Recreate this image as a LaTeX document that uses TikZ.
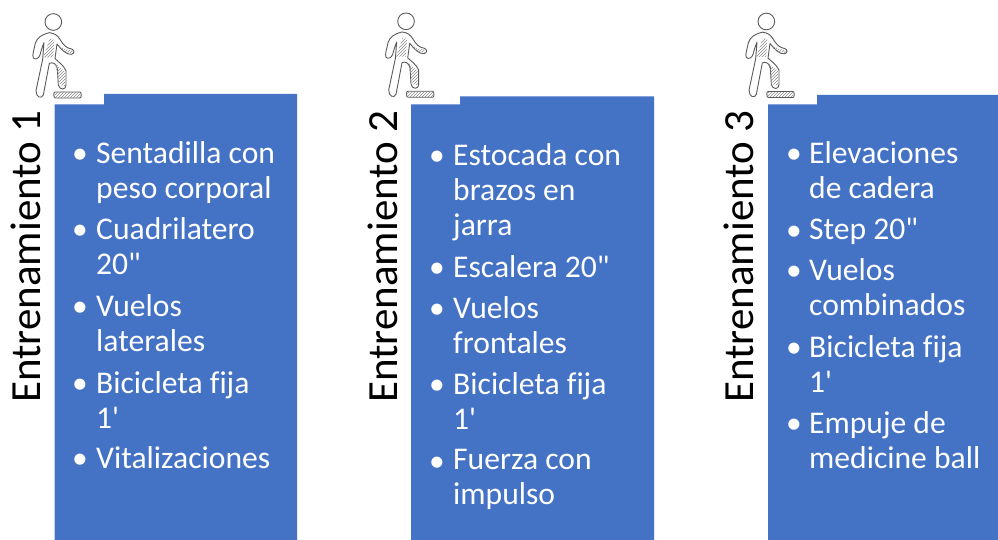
\documentclass[tikz,border=0pt]{standalone}
\usepackage{fontspec}
\usetikzlibrary{patterns}
\newfontfamily\bodyfont[Ligatures=NoCommon]{Carlito}
\definecolor{bluebox}{HTML}{4472C4}
\definecolor{inkgray}{HTML}{5A5A5A}
\definecolor{hatch}{HTML}{8C8C8C}
\tikzset{
  x=1pt,y=-1pt,
  panel/.style={fill=bluebox,draw=none},
  itemtext/.style={text=white,anchor=north west,inner sep=0pt,align=left,font=\bodyfont\fontsize{31.6}{35}\selectfont},
  bulletmark/.style={text=white,anchor=north west,inner sep=0pt,font=\bodyfont\fontsize{31.5}{35}\selectfont},
  sidetitle/.style={text=black,rotate=90,anchor=base,inner sep=0pt,font=\bodyfont\fontsize{43}{45}\selectfont},
  figline/.style={draw=inkgray,line width=0.9pt,fill=white,line join=round,line cap=round},
  figshade/.style={draw=none,pattern=north east lines,pattern color=hatch}
}
% person drawn in 3x zoom coordinates
\newcommand{\climber}[2]{%
\begin{scope}[shift={(#1,#2)},x=0.3333pt,y=-0.3333pt]
  \draw[figline] (160,66) circle (25);
  \draw[figline] (148,98) .. controls (125,104) and (112,112) .. (106,130)
    .. controls (102,150) and (96,165) .. (100,174) .. controls (106,180) and (116,176) .. (120,165)
    .. controls (124,150) and (127,140) .. (132,128) -- (128,178) -- (108,272)
    .. controls (108,292) and (124,298) .. (130,285) -- (148,190)
    .. controls (158,186) and (168,190) .. (172,205) -- (175,255)
    .. controls (178,270) and (198,272) .. (198,255) -- (198,212)
    .. controls (190,195) and (175,185) .. (165,176) -- (171,132)
    .. controls (185,150) and (200,165) .. (215,163) .. controls (224,160) and (224,150) .. (215,147)
    .. controls (200,145) and (190,135) .. (180,118) .. controls (172,106) and (165,100) .. (148,98) -- cycle;
  \fill[figshade] (150,115) -- (130,172) -- (160,172) -- (163,120) -- cycle;
  \fill[figshade] (175,135) -- (190,155) -- (215,160) -- (220,152) -- (195,148) -- cycle;
  \fill[figshade] (165,190) -- (180,255) -- (195,258) -- (195,215) -- cycle;
  \draw[figline] (165,276) -- (240,276) .. controls (245,276) and (245,294) .. (240,294) -- (166,294) .. controls (160,294) and (160,276) .. (165,276) -- cycle;
  \fill[figshade] (165,278) rectangle (241,292);
\end{scope}}
% bullet + text entry
\newcommand{\entry}[5]{%
  \node[bulletmark] (#1b) at (#2-3,#3+13) {•};
  \node[itemtext] (#1) at (#4,#3+5) {#5};}
\begin{document}
\begin{tikzpicture}
\useasboundingbox (0,0) rectangle (998,540);
\fill[white] (0,0) rectangle (998,540);
% panels
\fill[panel] (54.5,104.3) -- (104,104.3) -- (104,94) -- (297,94) -- (297,540) -- (54.5,540) -- cycle;
\fill[panel] (411,104.5) -- (460,104.5) -- (460,96.3) -- (654,96.3) -- (654,540) -- (411,540) -- cycle;
\fill[panel] (768,104.5) -- (817,104.5) -- (817,95) -- (998,95) -- (998,540) -- (768,540) -- cycle;
% people
\climber{0}{0}
\climber{352.7}{-0.7}
\climber{713}{-0.5}
% titles
\node[sidetitle] (t1) at (40,256.5) {Entrenamiento 1};
\node[sidetitle] (t2) at (397,256.5) {Entrenamiento 2};
\node[sidetitle] (t3) at (753,256.5) {Entrenamiento 3};
% column 1
\entry{a1}{75}{136}{96}{Sentadilla con\\peso corporal}
\entry{a2}{75}{212}{96}{Cuadrilatero\\20"}
\entry{a3}{75}{289}{96}{Vuelos\\laterales}
\entry{a4}{75}{366}{96}{Bicicleta fija\\1'}
\entry{a5}{75}{441}{96}{Vitalizaciones}
% column 2
\entry{b1}{432}{138}{453}{Estocada con\\brazos en\\jarra}
\entry{b2}{432}{250}{453}{Escalera 20"}
\entry{b3}{432}{291}{453}{Vuelos\\frontales}
\entry{b4}{432}{367}{453}{Bicicleta fija\\1'}
\entry{b5}{432}{444}{453}{Fuerza con\\impulso}
% column 3
\entry{c1}{789}{136}{809}{Elevaciones\\de cadera}
\entry{c2}{789}{213}{809}{Step 20"}
\entry{c3}{789}{253}{809}{Vuelos\\combinados}
\entry{c4}{789}{330}{809}{Bicicleta fija\\1'}
\entry{c5}{789}{406}{809}{Empuje de\\medicine ball}
\end{tikzpicture}
\end{document}
